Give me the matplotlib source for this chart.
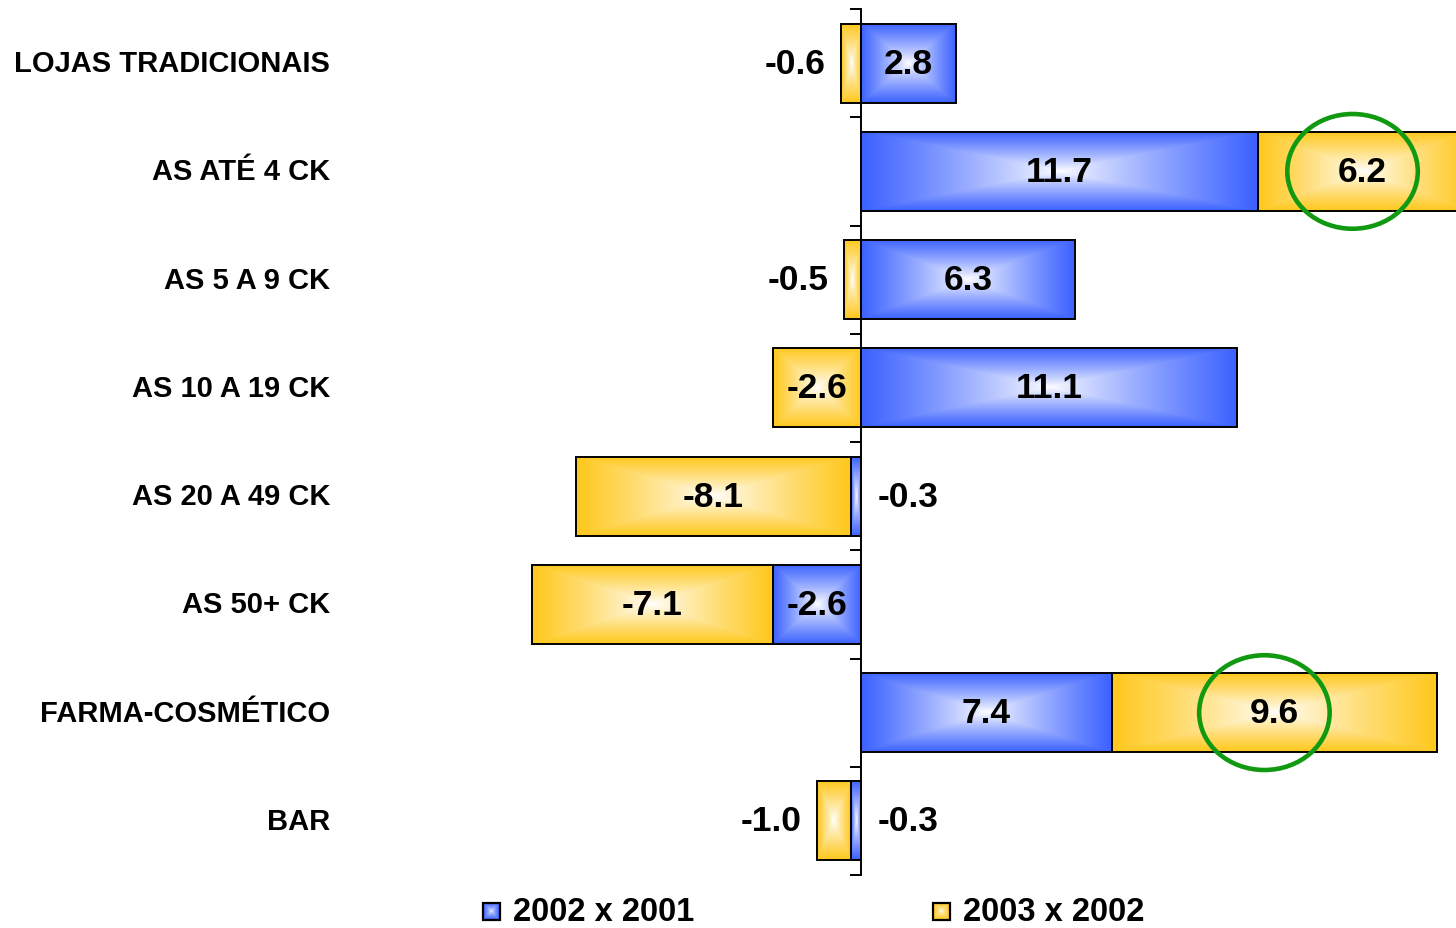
import matplotlib.pyplot as plt
import numpy as np
from matplotlib.patches import Ellipse, Rectangle
from matplotlib.colors import to_rgb

categories = ["LOJAS TRADICIONAIS", "AS ATÉ 4 CK", "AS 5 A 9 CK", "AS 10 A 19 CK",
              "AS 20 A 49 CK", "AS 50+ CK", "FARMA-COSMÉTICO", "BAR"]
series_names = ["2002 x 2001", "2003 x 2002"]
v2002 = [2.8, 11.7, 6.3, 11.1, -0.3, -2.6, 7.4, -0.3]
v2003 = [-0.6, 6.2, -0.5, -2.6, -8.1, -7.1, 9.6, -1.0]
highlight = [(1, 1), (6, 1)]   # (category index, series index) circled in green

colors = ["#3d63ff", "#ffc81e"]
FONT = "Liberation Sans"


def gradient(edge, n=60, m=60, p=0.85):
    # rectangular "from center" gradient, white in the middle
    u = np.abs(np.linspace(-1, 1, m))[None, :]
    v = np.abs(np.linspace(-1, 1, n))[:, None]
    t = np.maximum(u, v) ** p
    e = np.array(to_rgb(edge))
    return (1 - t[..., None]) * np.ones(3) + t[..., None] * e


def fill_bar(ax, bar, edge):
    x0, w = bar.get_x(), bar.get_width()
    y0, h = bar.get_y(), bar.get_height()
    im = ax.imshow(gradient(edge), extent=(x0, x0 + w, y0 + h, y0), aspect='auto',
                   interpolation='bilinear', zorder=2)
    im.set_clip_path(bar)


if (__name__ == '__main__'):
    fig = plt.figure(figsize=[14.56, 9.29], dpi=100)
    ax = fig.add_axes([0, 0, 1, 1])
    y = np.arange(len(categories))

    # stack positives and negatives separately from zero
    pos = np.zeros(len(y))
    neg = np.zeros(len(y))
    all_bars = []
    for s, vals in enumerate([v2002, v2003]):
        vals = np.array(vals)
        left = np.where(vals >= 0, pos, neg)
        bars = ax.barh(y, vals, left=left, height=0.73, facecolor='none',
                       edgecolor='black', linewidth=1.4, zorder=3)
        for b in bars:
            fill_bar(ax, b, colors[s])
        pos = pos + np.where(vals >= 0, vals, 0)
        neg = neg + np.where(vals < 0, vals, 0)
        all_bars.append(bars)

        for i, (b, v) in enumerate(zip(bars, vals)):
            cx = b.get_x() + b.get_width() / 2
            if abs(v) >= 1.5:
                ax.text(cx, i, f"{v:.1f}", ha='center', va='center', fontsize=25.5,
                        fontweight='bold', family=FONT, zorder=5)
            elif s == 0:
                ax.text(0.48, i, f"{v:.1f}", ha='left', va='center', fontsize=25.5,
                        fontweight='bold', family=FONT, zorder=5)
            else:
                ax.text(min(b.get_x(), b.get_x() + b.get_width()) - 0.45, i, f"{v:.1f}",
                        ha='right', va='center', fontsize=25.5, fontweight='bold',
                        family=FONT, zorder=5)

    for i, s in highlight:
        b = all_bars[s][i]
        cx = b.get_x() + b.get_width() / 2 - 0.3
        ax.add_patch(Ellipse((cx, i), 3.85, 1.06, facecolor='none', edgecolor='#119911',
                             linewidth=3.3, zorder=6))

    for i, c in enumerate(categories):
        ax.text(-15.66, i, c, ha='right', va='center', fontsize=21, fontweight='bold',
                family=FONT)

    # legend drawn by hand: gradient squares + labels
    for s, name in enumerate(series_names):
        x0 = [-11.15, 2.12][s]
        sq = Rectangle((x0, 7.84 - 0.08), 0.5, 0.16, facecolor='none',
                       edgecolor='black', linewidth=1.6, zorder=3)
        ax.add_patch(sq)
        im = ax.imshow(gradient(colors[s], 20, 20, 0.6),
                       extent=(x0, x0 + 0.5, 7.84 + 0.08, 7.84 - 0.08),
                       aspect='auto', interpolation='bilinear', zorder=2)
        im.set_clip_path(sq)
        ax.text(x0 + 0.88, 7.84, name, ha='left', va='center', fontsize=23.5,
                fontweight='bold', family=FONT)

    # zero axis with category separators
    for sp in ['top', 'right', 'bottom']:
        ax.spines[sp].set_visible(False)
    ax.spines['left'].set_position(('data', 0))
    ax.spines['left'].set_bounds(-0.5, 7.5)
    ax.spines['left'].set_linewidth(1.4)
    ax.set_yticks(np.arange(-0.5, len(y), 1.0))
    ax.set_yticklabels([])
    ax.tick_params(axis='y', direction='out', length=8, width=1.4)
    ax.set_xticks([])

    ax.set_xlim(-861 / 33.9, 595 / 33.9)
    ax.set_ylim(7.5 + 53 / 108.25, -0.5 - 10 / 108.25)
    plt.savefig("out.png", dpi=100)
